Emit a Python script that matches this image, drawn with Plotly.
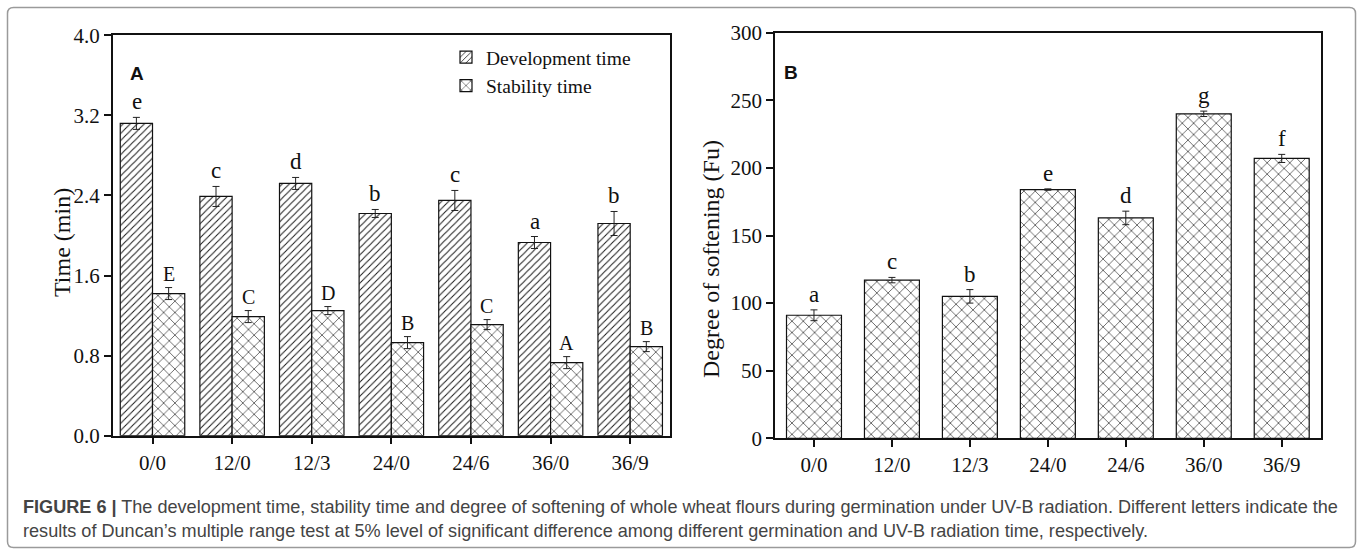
import plotly.graph_objects as go

categories = ["0/0", "12/0", "12/3", "24/0", "24/6", "36/0", "36/9"]

dev_time = [3.12, 2.39, 2.52, 2.22, 2.35, 1.93, 2.12]
dev_err = [0.06, 0.10, 0.06, 0.04, 0.10, 0.06, 0.12]
dev_letters = ["e", "c", "d", "b", "c", "a", "b"]

stab_time = [1.42, 1.19, 1.25, 0.93, 1.11, 0.73, 0.89]
stab_err = [0.06, 0.06, 0.04, 0.06, 0.05, 0.06, 0.05]
stab_letters = ["E", "C", "D", "B", "C", "A", "B"]

softening = [91, 117, 105, 184, 163, 240, 207]
soft_err = [4, 2, 5, 0.5, 5, 2, 3]
soft_letters = ["a", "c", "b", "e", "d", "g", "f"]

yticks_a = [0.0, 0.8, 1.6, 2.4, 3.2, 4.0]
yticks_b = [0, 50, 100, 150, 200, 250, 300]

SERIF = "Liberation Serif, Times New Roman, serif"
SANS = "Liberation Sans, Arial, sans-serif"
W, H = 1362, 554

fig = go.Figure()

fig.add_trace(go.Bar(
    x=categories, y=dev_time, name="Development time",
    width=0.405, offset=-0.405,
    marker=dict(color="white", line=dict(color="#111", width=1.2),
                pattern=dict(shape="/", fgcolor="#1a1a1a", bgcolor="white", size=5, solidity=0.2)),
    error_y=dict(type="data", array=dev_err, color="#222", thickness=1, width=3.5),
    xaxis="x", yaxis="y",
))
fig.add_trace(go.Bar(
    x=categories, y=stab_time, name="Stability time",
    width=0.405, offset=0,
    marker=dict(color="white", line=dict(color="#111", width=1.2),
                pattern=dict(shape="x", fgcolor="#1a1a1a", bgcolor="white", size=8, solidity=0.15)),
    error_y=dict(type="data", array=stab_err, color="#222", thickness=1, width=3.5),
    xaxis="x", yaxis="y",
))
fig.add_trace(go.Bar(
    x=categories, y=softening, name="Degree of softening", showlegend=False,
    width=0.705,
    marker=dict(color="white", line=dict(color="#111", width=1.2),
                pattern=dict(shape="x", fgcolor="#1a1a1a", bgcolor="white", size=8, solidity=0.15)),
    error_y=dict(type="data", array=soft_err, color="#222", thickness=1, width=3.5),
    xaxis="x2", yaxis="y2",
))

annotations = []
for c, v, e, t in zip(categories, dev_time, dev_err, dev_letters):
    annotations.append(dict(x=c, y=v + e, xref="x", yref="y", text=t, showarrow=False,
                            yanchor="bottom", xshift=-16, yshift=1,
                            font=dict(family=SERIF, size=23, color="#111")))
for c, v, e, t in zip(categories, stab_time, stab_err, stab_letters):
    annotations.append(dict(x=c, y=v + e, xref="x", yref="y", text=t, showarrow=False,
                            yanchor="bottom", xshift=16, yshift=1,
                            font=dict(family=SERIF, size=20, color="#111")))
for c, v, e, t in zip(categories, softening, soft_err, soft_letters):
    annotations.append(dict(x=c, y=v + e, xref="x2", yref="y2", text=t, showarrow=False,
                            yanchor="bottom", yshift=1,
                            font=dict(family=SERIF, size=23, color="#111")))

# panel labels
annotations.append(dict(x=128 / W, y=1 - 61 / H, xref="paper", yref="paper", text="<b>A</b>",
                        showarrow=False, font=dict(family=SANS, size=19, color="#111")))
annotations.append(dict(x=791 / W, y=1 - 60 / H, xref="paper", yref="paper", text="<b>B</b>",
                        showarrow=False, font=dict(family=SANS, size=19, color="#111")))
# axis titles
annotations.append(dict(x=47 / W, y=1 - 243 / H, xref="paper", yref="paper", text="Time (min)",
                        textangle=-90, showarrow=False, font=dict(family=SERIF, size=24, color="#111")))
annotations.append(dict(x=711 / W, y=1 - 259 / H, xref="paper", yref="paper",
                        text="Degree of softening (Fu)", textangle=-90, showarrow=False,
                        font=dict(family=SERIF, size=24, color="#111")))
# caption
annotations.append(dict(x=21 / W, y=1 - 507 / H, xref="paper", yref="paper", xanchor="left",
                        yanchor="middle", showarrow=False, align="left",
                        text="<b>FIGURE 6 |</b> The development time, stability time and degree of softening "
                             "of whole wheat flours during germination under UV-B radiation. Different letters indicate the",
                        font=dict(family=SANS, size=18.1, color="#444")))
annotations.append(dict(x=21 / W, y=1 - 531 / H, xref="paper", yref="paper", xanchor="left",
                        yanchor="middle", showarrow=False, align="left",
                        text="results of Duncan\u2019s multiple range test at 5% level of significant difference "
                             "among different germination and UV-B radiation time, respectively.",
                        font=dict(family=SANS, size=18.1, color="#444")))

# rounded outer frame
x0, x1 = 7.5 / W, 1355.5 / W
y0, y1 = 1 - 547.5 / H, 1 - 7.5 / H
rx, ry = 6 / W, 6 / H
frame_path = (f"M {x0+rx},{y1} L {x1-rx},{y1} Q {x1},{y1} {x1},{y1-ry} "
              f"L {x1},{y0+ry} Q {x1},{y0} {x1-rx},{y0} L {x0+rx},{y0} "
              f"Q {x0},{y0} {x0},{y0+ry} L {x0},{y1-ry} Q {x0},{y1} {x0+rx},{y1} Z")

axis_common = dict(showline=True, linecolor="#111", linewidth=1.5, mirror=True,
                   ticks="outside", ticklen=7, tickwidth=1.5, tickcolor="#111",
                   showgrid=False, zeroline=False, automargin=False,
                   tickfont=dict(family=SERIF, size=21, color="#111"))

fig.update_layout(
    width=W, height=H,
    template="none",
    paper_bgcolor="white", plot_bgcolor="white",
    margin=dict(l=0, r=0, t=0, b=0),
    barmode="overlay",
    showlegend=True,
    legend=dict(x=446 / W, y=1 - 38 / H, xanchor="left", yanchor="top",
                bgcolor="rgba(0,0,0,0)", borderwidth=0, tracegroupgap=0,
                font=dict(family=SERIF, size=19.5, color="#111")),
    xaxis=dict(domain=[112.7 / W, 670 / W], anchor="y", range=[-0.5, 6.5], type="category",
               **axis_common),
    yaxis=dict(domain=[1 - 435.7 / H, 1 - 35.3 / H], anchor="x", range=[0, 4.0],
               tickvals=yticks_a, tickformat=".1f", **axis_common),
    xaxis2=dict(domain=[775 / W, 1320.7 / W], anchor="y2", range=[-0.5, 6.5], type="category",
                **axis_common),
    yaxis2=dict(domain=[1 - 438.3 / H, 1 - 32.7 / H], anchor="x2", range=[0, 300],
                tickvals=yticks_b, **axis_common),
    annotations=annotations,
    shapes=[dict(type="path", path=frame_path, xref="paper", yref="paper",
                 line=dict(color="#9a9a9a", width=1.5))],
)

fig.write_html("out.html")
